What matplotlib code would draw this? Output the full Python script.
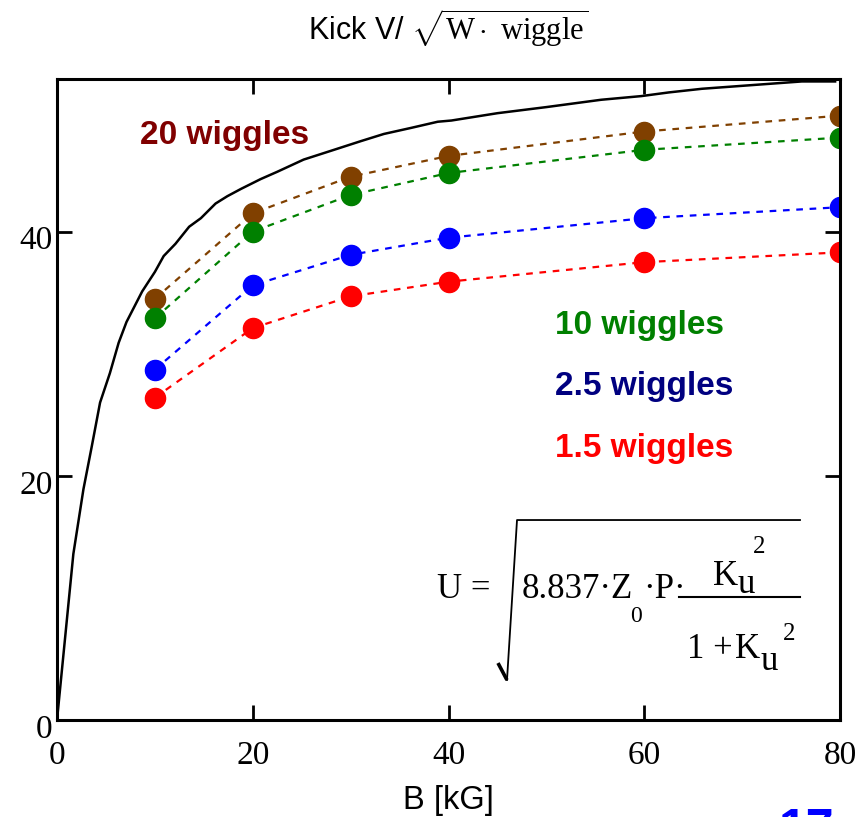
import matplotlib
matplotlib.use('Agg')
import matplotlib.pyplot as plt
import matplotlib.transforms as mtransforms

plt.rcParams['font.family'] = 'Liberation Sans'
plt.rcParams['mathtext.fontset'] = 'custom'
plt.rcParams['mathtext.rm'] = 'Liberation Serif'
plt.rcParams['mathtext.it'] = 'Liberation Serif'
plt.rcParams['mathtext.bf'] = 'Liberation Serif:bold'

# field B [kG] where the wiggler points were computed
B = [10, 20, 30, 40, 60, 80]
kick_20 = [34.5, 41.5, 44.5, 46.2, 48.2, 49.5]
kick_10 = [32.9, 40.0, 43.0, 44.8, 46.7, 47.7]
kick_2_5 = [28.7, 35.6, 38.1, 39.5, 41.1, 42.0]
kick_1_5 = [26.4, 32.1, 34.7, 35.9, 37.5, 38.3]

# upper limit curve
curve_B = [0, 1.67, 2.7, 3.55, 4.4, 5.4, 6.3, 7.1, 8.7, 10.0, 10.9, 12.1,
           13.5, 14.7, 16.2, 17.4, 18.8, 20.8, 22.5, 25.2, 28.3, 31.0, 33.4,
           36.2, 38.9, 40.3, 45, 50, 55.6, 59.7, 62.5, 65.9, 69.3, 72.7,
           76.1, 79.5]
curve_V = [0, 13.6, 18.9, 22.4, 26.0, 28.4, 30.9, 32.6, 35.1, 36.7, 38.0,
           39.0, 40.4, 41.1, 42.3, 42.9, 43.5, 44.3, 44.9, 45.9, 46.7, 47.4,
           48.0, 48.5, 49.0, 49.1, 49.7, 50.2, 50.8, 51.1, 51.4, 51.7, 51.9,
           52.1, 52.3, 52.3]

xticks = [0, 20, 40, 60, 80]
yticks = [0, 20, 40]

fig = plt.figure(figsize=(8.65, 8.17), dpi=100)
ax = fig.add_axes([0.0659, 0.1187, 0.9052, 0.7846])

ax.plot(curve_B, curve_V, color='black', lw=1.8)

series = [(kick_20, '#804000'), (kick_10, '#008000'),
          (kick_2_5, '#0000ff'), (kick_1_5, '#ff0000')]
for vals, c in series:
    ax.plot(B, vals, color=c, lw=1.6, ls=(0, (3, 3)),
            marker='o', ms=14.5, mec=c, mfc=c)

ax.text(8.5, 47.85, '20 wiggles', color='#800000', fontsize=24,
        fontweight='bold', va='center')
ax.text(50.9, 32.3, '10 wiggles', color='#008000', fontsize=24,
        fontweight='bold', va='center')
ax.text(50.9, 27.3, '2.5 wiggles', color='#000080', fontsize=24,
        fontweight='bold', va='center')
ax.text(50.9, 22.25, '1.5 wiggles', color='#ff0000', fontsize=24,
        fontweight='bold', va='center')

# formula, Mathcad style, placed in axes fraction
serif = 'Liberation Serif'
tA = ax.transAxes
def ftxt(x, y, s, size=25):
    ax.text(x, y, s, transform=tA, fontsize=size, family=serif,
            ha='left', va='baseline')

ftxt(0.4853, 0.1903, 'U =')
ax.plot([0.5632, 0.5747], [0.0889, 0.0624], transform=tA, color='black',
        lw=2.6, solid_capstyle='butt')
ax.plot([0.5747, 0.5875, 0.9489], [0.0624, 0.3120, 0.3120], transform=tA,
        color='black', lw=1.3)
ftxt(0.5939, 0.1903, '8.837\u00b7Z')
ftxt(0.7323, 0.1529, '0', 17)
ftxt(0.7484, 0.1903, '\u00b7P\u00b7')
ax.plot([0.7944, 0.9489], [0.1919, 0.1919], transform=tA, color='black',
        lw=1.5)
ftxt(0.8378, 0.2106, 'K')
ftxt(0.8685, 0.1981, 'u')
ftxt(0.8889, 0.2605, '2', 18)
ftxt(0.8046, 0.0967, '1 +')
ftxt(0.8660, 0.0967, 'K')
ftxt(0.8990, 0.0780, 'u')
ftxt(0.9272, 0.1248, '2', 18)

ax.set_xlim(0, 80)
ax.set_ylim(0, 52.5)
ax.set_xticks(xticks)
ax.set_yticks(yticks)
ax.tick_params(direction='in', length=11, width=2, top=True, right=True,
               labelsize=24)
ax.tick_params(axis='x', pad=15)
ax.tick_params(axis='y', pad=3)
shift = mtransforms.ScaledTranslation(0, -6 / 100, fig.dpi_scale_trans)
for lab in ax.get_yticklabels():
    lab.set_family(serif)
    lab.set_transform(lab.get_transform() + shift)
for lab in ax.get_xticklabels():
    lab.set_family(serif)
for s in ax.spines.values():
    s.set_linewidth(2.2)

ax.set_xlabel('B [kG]', fontsize=23.5, labelpad=10)
ax.set_title(r'Kick V/ $\sqrt{\mathrm{W\cdot\ wiggle}}$', fontsize=22, pad=28)

fig.text(0.9, -0.033, '17', color='#0000ff', fontsize=36, fontweight='bold')

fig.savefig('out.png', dpi=100)
